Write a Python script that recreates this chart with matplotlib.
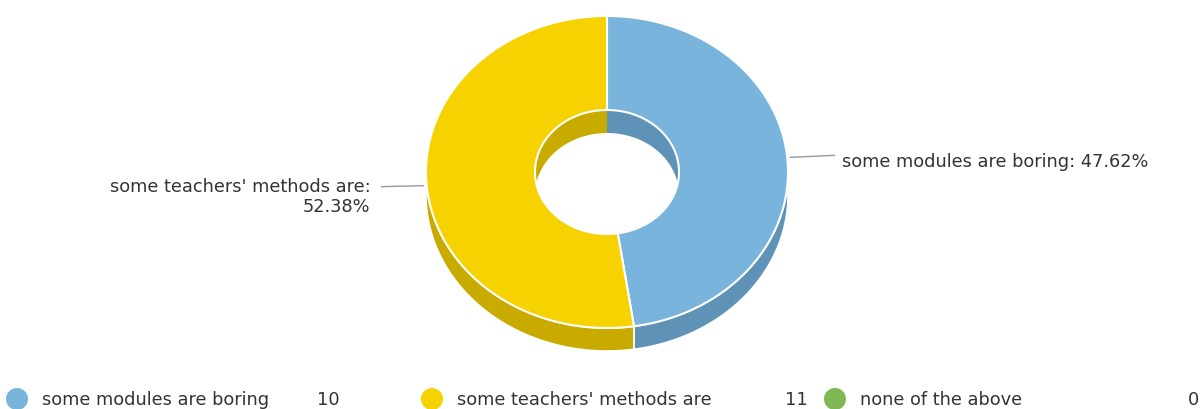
import numpy as np
import matplotlib.pyplot as plt
from matplotlib.patches import Polygon, Circle

# ── data ──────────────────────────────────────────────────────────────
labels = ["some modules are boring", "some teachers' methods are", "none of the above"]
counts = [10, 11, 0]
top_colors = ['#79B4DC', '#F6D200', '#7DB855']
side_colors = ['#5E92B6', '#C9AB00', '#5F9A3C']

TEXT = '#333333'
LINE = '#999999'
FS = 12.8

# ── geometry (pixel units) ────────────────────────────────────────────
CX, CY = 607, 173
RX, RY = 181, 156
RXI, RYI = 72, 62
DEPTH = 23

fig = plt.figure(figsize=(12.01, 4.10), dpi=100)
ax = fig.add_axes([0, 0, 1, 1])
ax.set_xlim(0, 1201)
ax.set_ylim(410, 0)
ax.axis('off')


def ell(t, rx, ry, dy=0):
    return CX + rx * np.sin(t), CY - ry * np.cos(t) + dy


def band(t0, t1, rx, ry):
    t = np.linspace(t0, t1, 80)
    x1, y1 = ell(t, rx, ry)
    x2, y2 = ell(t[::-1], rx, ry, DEPTH)
    return np.column_stack([np.r_[x1, x2], np.r_[y1, y2]])


total = sum(counts)
fracs = [c / total for c in counts]
starts = np.cumsum([0] + fracs[:-1]) * 2 * np.pi
ends = np.cumsum(fracs) * 2 * np.pi

# inner walls (back half of hole) and outer walls (front half)
for i, f in enumerate(fracs):
    if f == 0:
        continue
    t0, t1 = starts[i], ends[i]
    for a, b in [(-np.pi / 2, np.pi / 2), (3 * np.pi / 2, 5 * np.pi / 2)]:
        lo, hi = max(t0, a), min(t1, b)
        if lo < hi:
            ax.add_patch(Polygon(band(lo, hi, RXI, RYI), closed=True,
                                 facecolor=side_colors[i], edgecolor='none', zorder=1))
    lo, hi = max(t0, np.pi / 2), min(t1, 3 * np.pi / 2)
    if lo < hi:
        ax.add_patch(Polygon(band(lo, hi, RX, RY), closed=True,
                             facecolor=side_colors[i], edgecolor='white',
                             linewidth=1.2, zorder=2))

# top faces
for i, f in enumerate(fracs):
    if f == 0:
        continue
    t = np.linspace(starts[i], ends[i], 120)
    xo, yo = ell(t, RX, RY)
    xi, yi = ell(t[::-1], RXI, RYI)
    ax.add_patch(Polygon(np.column_stack([np.r_[xo, xi], np.r_[yo, yi]]), closed=True,
                         facecolor=top_colors[i], edgecolor='white',
                         linewidth=1.5, zorder=3))

# slice labels with leader lines
for i, f in enumerate(fracs):
    if f == 0:
        continue
    mid = (starts[i] + ends[i]) / 2
    px, py = ell(mid, RX, RY)
    pct = f'{f * 100:.2f}%'
    if np.sin(mid) >= 0:
        ax.plot([px + 3, px + 47], [py - 3, py - 5], color=LINE, lw=1, zorder=4)
        ax.text(px + 55, py + 1, f'{labels[i]}: {pct}', ha='left', va='center',
                fontsize=FS, color=TEXT)
    else:
        ax.plot([px - 3, px - 45], [py + 2, py + 3], color=LINE, lw=1, zorder=4)
        ax.text(px - 56, py + 2, f'{labels[i]}:', ha='right', va='center',
                fontsize=FS, color=TEXT)
        ax.text(px - 56, py + 22, pct, ha='right', va='center',
                fontsize=FS, color=TEXT)

# legend row
leg_x = [17, 432, 835]
val_x = [340, 808, 1199]
for i, lab in enumerate(labels):
    ax.add_patch(Circle((leg_x[i], 400), 11, facecolor=top_colors[i],
                        edgecolor='none', zorder=3))
    ax.text(leg_x[i] + 25, 400, lab, ha='left', va='center', fontsize=FS, color=TEXT)
    ax.text(val_x[i], 400, str(counts[i]), ha='right', va='center', fontsize=FS, color=TEXT)

fig.savefig('out.png', dpi=100, facecolor='white')
